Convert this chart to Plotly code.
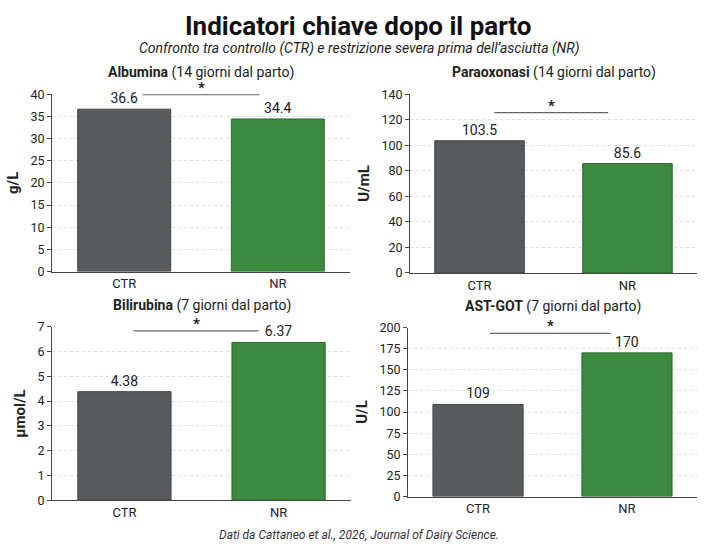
import plotly.graph_objects as go

FONT = "Roboto, Arial"

groups = ["CTR", "NR"]
panel_names = ["Albumina", "Paraoxonasi", "Bilirubina", "AST-GOT"]
panel_times = ["(14 giorni dal parto)", "(14 giorni dal parto)", "(7 giorni dal parto)", "(7 giorni dal parto)"]
units = ["g/L", "U/mL", "µmol/L", "U/L"]
ctr_values = [36.6, 103.5, 4.38, 109]
nr_values = [34.4, 85.6, 6.37, 170]
value_labels_ctr = ["36.6", "103.5", "4.38", "109"]
value_labels_nr = ["34.4", "85.6", "6.37", "170"]
y_max = [40, 140, 7, 200]
y_dtick = [5, 20, 1, 25]
sig_y = [39.9, 125.5, 6.84, 193]
sig_x0 = [0.12, 0.10, 0.06, 0.08]
sig_x1 = [0.88, 0.87, 0.87, 0.89]

W, H = 717, 560
# pixel boxes: (left, right, top, bottom)
boxes = [(52, 350, 88.5, 270.8), (410, 697, 88.5, 272.2), (52, 351, 327.6, 505.7), (408, 697, 328.3, 502)]

colors = ["#575b5e", "#3b8a3f"]
outline = ["#3f4244", "#2b6a2e"]

fig = go.Figure()
annotations = []
shapes = []
layout_axes = {}
for i in range(4):
    xa = "x" if i == 0 else f"x{i+1}"
    ya = "y" if i == 0 else f"y{i+1}"
    l, r, t, b = boxes[i]
    fig.add_trace(go.Bar(
        x=groups, y=[ctr_values[i], nr_values[i]],
        marker=dict(color=colors, line=dict(color=outline, width=1)),
        width=0.605,
        text=[value_labels_ctr[i], value_labels_nr[i]],
        textposition="outside", cliponaxis=False,
        textfont=dict(family=FONT, size=14, color="#222"),
        xaxis=xa, yaxis=ya, showlegend=False, hoverinfo="skip",
    ))
    layout_axes["xaxis" if i == 0 else f"xaxis{i+1}"] = dict(
        domain=[l / W, r / W], anchor=ya, range=[-0.47, 1.47],
        showline=True, linecolor="#444", linewidth=1, ticks="",
        tickfont=dict(family=FONT, size=13, color="#222"), showgrid=False,
    )
    layout_axes["yaxis" if i == 0 else f"yaxis{i+1}"] = dict(
        domain=[1 - b / H, 1 - t / H], anchor=xa, range=[0, y_max[i]], dtick=y_dtick[i],
        showline=True, linecolor="#444", linewidth=1, ticks="outside", ticklen=4, tickcolor="#444",
        tickfont=dict(family=FONT, size=12.5, color="#222"),
        showgrid=True, gridcolor="#dddddd", griddash="dot", gridwidth=1,
        zeroline=False,
        title=dict(text=f"<b>{units[i]}</b>", font=dict(family=FONT, size=15, color="#222"), standoff=8),
    )
    shapes.append(dict(type="line", xref=xa, yref=ya, x0=sig_x0[i], x1=sig_x1[i], y0=sig_y[i], y1=sig_y[i],
                       line=dict(color="#666", width=1.3)))
    annotations.append(dict(text="<b>*</b>", xref=xa, yref=ya, x=(sig_x0[i] + sig_x1[i]) / 2, y=sig_y[i],
                            yanchor="bottom", showarrow=False, font=dict(family=FONT, size=15, color="#222"), yshift=-4))
    annotations.append(dict(text=f"<b>{panel_names[i]}</b> {panel_times[i]}", xref="paper", yref="paper",
                            x=(l + r) / 2 / W, y=1 - (t - 22) / H, yanchor="middle", xanchor="center",
                            showarrow=False, font=dict(family=FONT, size=14, color="#222")))

annotations.append(dict(text="<b>Indicatori chiave dopo il parto</b>", xref="paper", yref="paper", x=0.5, y=1 - 18 / H,
                        yanchor="middle", showarrow=False, font=dict(family=FONT, size=26, color="#111")))
annotations.append(dict(text="<i>Confronto tra controllo (CTR) e restrizione severa prima dell’asciutta (NR)</i>",
                        xref="paper", yref="paper", x=0.5, y=1 - 42 / H, yanchor="middle", showarrow=False,
                        font=dict(family=FONT, size=14, color="#222")))
annotations.append(dict(text="<i>Dati da Cattaneo et al., 2026, Journal of Dairy Science.</i>",
                        xref="paper", yref="paper", x=0.5, y=1 - 541 / H, yanchor="middle", showarrow=False,
                        font=dict(family=FONT, size=12, color="#333")))

fig.update_layout(width=W, height=H, margin=dict(l=0, r=0, t=0, b=0), plot_bgcolor="white", paper_bgcolor="white",
                  annotations=annotations, shapes=shapes, **layout_axes)
fig.write_html("out.html", config={"displayModeBar": False},
               post_script="document.body.style.margin='0';document.body.style.overflow='hidden';")
